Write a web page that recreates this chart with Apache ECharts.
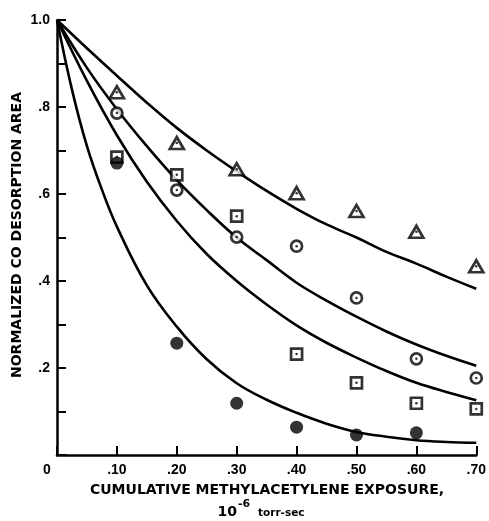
<!DOCTYPE html>
<html>
<head>
<meta charset="utf-8">
<script src="https://cdn.jsdelivr.net/npm/echarts@6/dist/echarts.min.js"></script>
<style>
  html, body { margin: 0; padding: 0; background: #fff; }
  #chart { width: 489px; height: 521px; }
</style>
</head>
<body>
<div id="chart"></div>
<script>
// Exposure values (10^-6 torr-sec) at which the measurements were taken
const exposure = [0.10, 0.20, 0.30, 0.40, 0.50, 0.60, 0.70];

// Measured normalized CO desorption areas
const triangleVals = [0.834, 0.717, 0.657, 0.602, 0.561, 0.513, 0.434];
const circleVals   = [0.786, 0.609, 0.501, 0.480, 0.361, 0.221, 0.177];
const squareVals   = [0.685, 0.644, 0.549, 0.232, 0.166, 0.119, 0.106];
const filledX      = [0.10, 0.20, 0.30, 0.40, 0.50, 0.60];
const filledVals   = [0.671, 0.257, 0.119, 0.064, 0.046, 0.051];

// Smooth curves through the data sets
const curveX  = [0, 0.05, 0.10, 0.15, 0.20, 0.25, 0.30, 0.35, 0.40, 0.45, 0.50, 0.55, 0.60, 0.65, 0.70];
const curveA  = [1.0, 0.935, 0.872, 0.810, 0.752, 0.700, 0.652, 0.607, 0.566, 0.530, 0.500, 0.467, 0.440, 0.410, 0.382];
const curveB  = [1.0, 0.890, 0.795, 0.710, 0.632, 0.563, 0.500, 0.448, 0.396, 0.355, 0.318, 0.284, 0.254, 0.228, 0.205];
const curveC  = [1.0, 0.860, 0.735, 0.628, 0.538, 0.462, 0.400, 0.346, 0.298, 0.258, 0.224, 0.193, 0.166, 0.145, 0.126];
const curveDX = [0, 0.025, 0.05, 0.075, 0.10, 0.15, 0.20, 0.25, 0.30, 0.35, 0.40, 0.45, 0.50, 0.55, 0.60, 0.65, 0.70];
const curveD  = [1.0, 0.840, 0.710, 0.610, 0.525, 0.390, 0.295, 0.220, 0.165, 0.127, 0.097, 0.072, 0.053, 0.042, 0.034, 0.030, 0.028];

const yLabels = { '0.2': '.2', '0.4': '.4', '0.6': '.6', '0.8': '.8', '1': '1.0' };
const xLabels = { '0.1': '.10', '0.2': '.20', '0.3': '.30', '0.4': '.40', '0.5': '.50', '0.6': '.60', '0.7': '.70' };

const FONT = '"Liberation Sans", Arial, Helvetica, sans-serif';
const TITLE_FONT = '"DejaVu Sans", Verdana, sans-serif';

function pairs(xs, ys) { return xs.map((x, i) => [x, ys[i]]); }

function curve(xs, ys) {
  return {
    type: 'line', data: pairs(xs, ys), smooth: 0.4, symbol: 'none',
    lineStyle: { color: '#000', width: 2.6 }, z: 2, silent: true
  };
}

function markers(ys, symbol, size) {
  return {
    type: 'scatter', data: pairs(exposure, ys), symbol: symbol, symbolSize: size,
    itemStyle: { color: '#fff', borderColor: '#000', borderWidth: 2.7 },
    z: 3, silent: true
  };
}

function centerDots(ys) {
  return {
    type: 'scatter', data: pairs(exposure, ys), symbol: 'circle', symbolSize: 2.5,
    itemStyle: { color: '#000' }, z: 4, silent: true
  };
}

const chart = echarts.init(document.getElementById('chart'), null, { renderer: 'canvas' });

chart.setOption({
  backgroundColor: '#fff',
  animation: false,
  grid: { left: 57, right: 11, top: 20, bottom: 66, containLabel: false },
  xAxis: {
    type: 'value', min: 0, max: 0.7, interval: 0.1,
    axisLine: { lineStyle: { color: '#000', width: 2.5 } },
    axisTick: { inside: true, length: 9, lineStyle: { color: '#000', width: 2 } },
    splitLine: { show: false },
    axisLabel: {
      margin: 8, color: '#000', fontFamily: FONT, fontWeight: 'bold', fontSize: 14,
      formatter: v => v === 0 ? '{z|0}' : (xLabels[String(+v.toFixed(2))] || ''),
      rich: { z: { padding: [0, 20, 0, 0], fontFamily: FONT, fontWeight: 'bold', fontSize: 14, color: '#000' } }
    }
  },
  yAxis: {
    type: 'value', min: 0, max: 1.0, interval: 0.1,
    axisLine: { lineStyle: { color: '#000', width: 2.5 } },
    axisTick: { inside: true, length: 9, lineStyle: { color: '#000', width: 2 } },
    splitLine: { show: false },
    axisLabel: {
      margin: 7, color: '#000', fontFamily: FONT, fontWeight: 'bold', fontSize: 14,
      formatter: v => yLabels[String(+v.toFixed(2))] || ''
    }
  },
  graphic: [
    {
      type: 'text', x: 17, y: 235, rotation: Math.PI / 2,
      style: {
        text: 'NORMALIZED CO DESORPTION AREA', fill: '#000',
        font: 'bold 14px ' + TITLE_FONT, align: 'center', verticalAlign: 'middle'
      }
    },
    {
      type: 'text', x: 267, y: 490,
      style: {
        text: 'CUMULATIVE METHYLACETYLENE EXPOSURE,', fill: '#000',
        font: 'bold 14px ' + TITLE_FONT, align: 'center', verticalAlign: 'middle'
      }
    },
    {
      type: 'text', x: 237, y: 512,
      style: { text: '10', fill: '#000', font: 'bold 14px ' + TITLE_FONT, align: 'right', verticalAlign: 'middle' }
    },
    {
      type: 'text', x: 238, y: 504,
      style: { text: '-6', fill: '#000', font: 'bold 11px ' + TITLE_FONT, align: 'left', verticalAlign: 'middle' }
    },
    {
      type: 'text', x: 258, y: 513,
      style: { text: 'torr-sec', fill: '#000', font: 'bold 10.5px ' + TITLE_FONT, align: 'left', verticalAlign: 'middle' }
    }
  ],
  series: [
    curve(curveX, curveA),
    curve(curveX, curveB),
    curve(curveX, curveC),
    curve(curveDX, curveD),
    markers(triangleVals, 'triangle', [14, 12]),
    centerDots(triangleVals),
    markers(circleVals, 'circle', 11),
    centerDots(circleVals),
    markers(squareVals, 'rect', 11),
    centerDots(squareVals),
    {
      type: 'scatter', data: pairs(filledX, filledVals), symbol: 'circle', symbolSize: 13,
      itemStyle: { color: '#000' }, z: 3, silent: true
    }
  ]
});
</script>
</body>
</html>
